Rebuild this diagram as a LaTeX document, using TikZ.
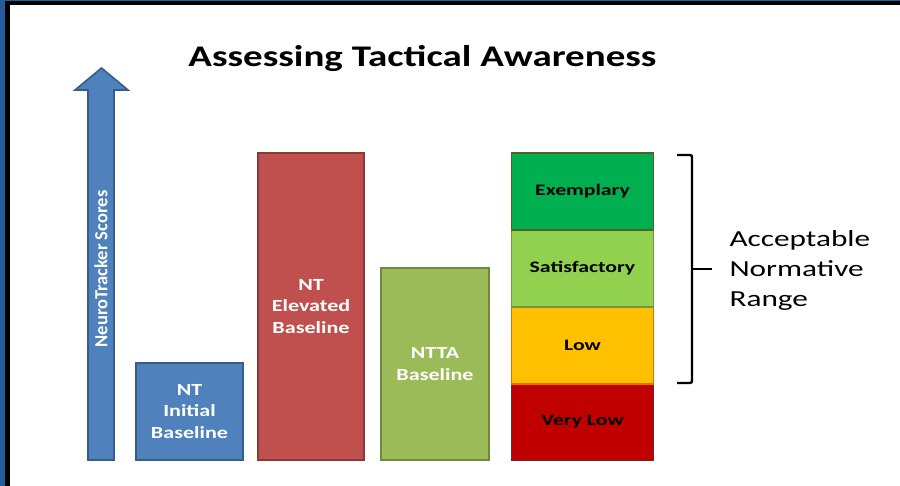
\documentclass[tikz,border=0pt]{standalone}
\usepackage{fontspec}
\setmainfont{Carlito}
\newfontfamily\widefont[FakeStretch=1.3]{Carlito}
\newfontfamily\widerfont[FakeStretch=1.36]{Carlito}
\definecolor{bgblue}{HTML}{245C9C}
\definecolor{bfill}{HTML}{4F81BD}\definecolor{bdraw}{HTML}{385D8A}
\definecolor{rfill}{HTML}{C0504D}\definecolor{rdraw}{HTML}{8C3836}
\definecolor{ofill}{HTML}{9BBB59}\definecolor{odraw}{HTML}{71893F}
\definecolor{exfill}{HTML}{00B050}\definecolor{exdraw}{HTML}{4F6228}
\definecolor{safill}{HTML}{92D050}\definecolor{sadraw}{HTML}{77933C}
\definecolor{lofill}{HTML}{FFC000}\definecolor{lodraw}{HTML}{E46C0A}
\definecolor{vlfill}{HTML}{C00000}\definecolor{vldraw}{HTML}{6E2A2A}
\tikzset{
  bar/.style={rectangle, line width=1.6pt, inner sep=0pt, align=center, text=white,
    font=\widefont\bfseries\fontsize{17}{21.5}\selectfont},
  lvl/.style={rectangle, line width=1.6pt, inner sep=0pt, align=center, text=black,
    minimum width=142pt, minimum height=77pt, font=\widerfont\bfseries\fontsize{16}{18}\selectfont},
  bracketline/.style={draw=black, line width=2.4pt, rounded corners=2pt}
}
\begin{document}
\begin{tikzpicture}[x=1pt,y=-1pt]
\useasboundingbox (0,0) rectangle (900,486);
\fill[bgblue] (0,0) rectangle (900,486);
\fill[black] (5,1.5) rectangle (900,486);
\fill[white] (9.5,5.5) rectangle (900,486);
% title
\node[anchor=base, font=\widefont\bfseries\fontsize{30}{36}\selectfont] (title) at (422.5,67) {Assessing Tactical Awareness};
% arrow
\filldraw[fill=bfill, draw=bdraw, line width=1.6pt, line join=miter]
  (88,460) -- (88,90) -- (75,90) -- (101.5,68) -- (128,90) -- (114,90) -- (114,460) -- cycle;
\node[rotate=90, text=white, font=\bfseries\fontsize{18.5}{20}\selectfont] (axis) at (101,269) {NeuroTracker Scores};
% bars
\node[bar, fill=bfill, draw=bdraw, minimum width=107pt, minimum height=97pt] (init) at (189.5,411.5) {NT\\Initial\\Baseline};
\node[bar, fill=rfill, draw=rdraw, minimum width=106pt, minimum height=307pt] (elev) at (311,306.5) {NT\\Elevated\\Baseline};
\node[bar, fill=ofill, draw=odraw, minimum width=108pt, minimum height=192pt] (ntta) at (435,364) {NTTA\\Baseline};
% level stack
\node[lvl, fill=vlfill, draw=vldraw] (vlow) at (582.5,422) {Very Low};
\node[lvl, fill=lofill, draw=lodraw] (low) at (582.5,345.5) {Low};
\node[lvl, fill=safill, draw=sadraw] (sat) at (582.5,268.5) {Satisfactory};
\node[lvl, fill=exfill, draw=exdraw] (ex) at (582.5,191.5) {Exemplary};
% bracket
\coordinate (bt) at (677,155);
\coordinate (bb) at (677,383);
\coordinate (bm) at (692,269);
\coordinate (btip) at (712,269);
\draw[bracketline] (bt) -- (bt -| bm) -- (bb -| bm) -- (bb);
\draw[bracketline] (bm) -- (btip);
\node[anchor=west, align=left, font=\widerfont\fontsize{23}{30}\selectfont] (range) at (726,270) {Acceptable\\Normative\\Range};
\end{tikzpicture}
\end{document}
